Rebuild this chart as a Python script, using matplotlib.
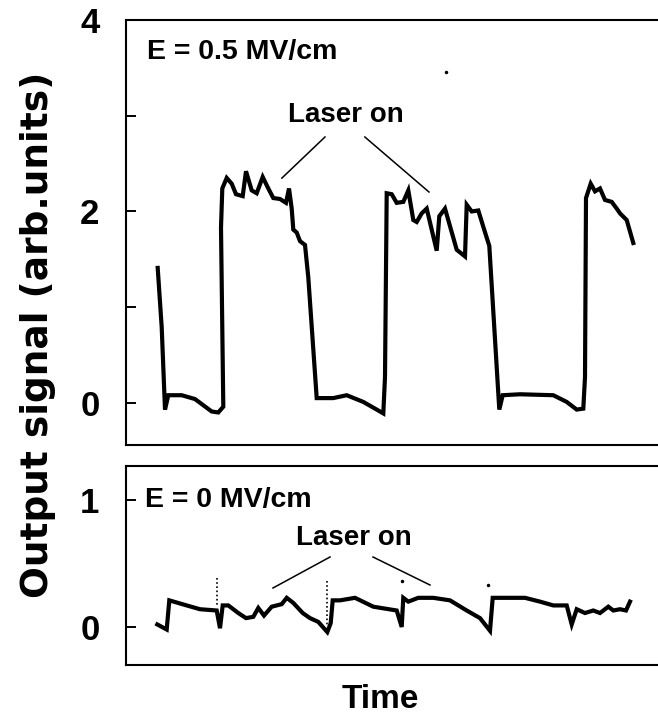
import matplotlib.pyplot as plt

# time in arbitrary units (no ticks on the time axis)
t_top = [31.7, 35.7, 39, 42.3, 55.7, 69, 85.7, 92.3, 97.3, 95, 96.3, 100.7, 105.7,
         110, 116.7, 120, 125.7, 130.7, 136.7, 142.3, 147.3, 154, 160, 163, 165.7,
         167.3, 170.7, 174, 179, 182.3, 190.7, 207.3, 220.7, 237.3, 250.7, 257.3,
         259, 260.7, 265.7, 270.7, 277.3, 282.3, 287.3, 290.7, 295.7, 300.7, 310.7,
         313.3, 319, 330.7, 339, 340.7, 345.7, 352.3, 357.3, 363.3, 373.3, 376.7,
         394, 427.3, 440.7, 450.7, 457.3, 459, 460, 464.7, 469, 474, 479, 485.7,
         490.7, 494, 500.7, 507.3]
sig_top = [1.41, 0.79, -0.07, 0.08, 0.08, 0.04, -0.09, -0.10, -0.04, 1.83, 2.24, 2.35,
           2.29, 2.18, 2.16, 2.42, 2.22, 2.19, 2.36, 2.24, 2.14, 2.13, 2.09, 2.24,
           2.03, 1.81, 1.78, 1.69, 1.65, 1.31, 0.05, 0.05, 0.08, 0.01, -0.07, -0.11,
           0.27, 2.19, 2.18, 2.09, 2.10, 2.22, 1.91, 1.89, 1.98, 2.03, 1.59, 1.95,
           2.03, 1.60, 1.53, 2.07, 2.00, 2.01, 1.84, 1.64, -0.07, 0.08, 0.09, 0.08,
           0.01, -0.07, -0.06, 0.27, 2.14, 2.29, 2.21, 2.24, 2.12, 2.10, 2.03, 1.98,
           1.91, 1.67]

t_bot = [31.3, 40.7, 43.3, 60.7, 74, 90.7, 94, 96.7, 102.3, 112.3, 120, 127.3, 132.3,
         138, 145.7, 155.7, 160.7, 167.3, 176.7, 184, 192.3, 201.3, 204.7, 206.7, 214,
         229, 247.3, 270.7, 275.7, 277.3, 282.3, 292.3, 307.3, 324, 340.7, 354, 364,
         366.7, 380.7, 399, 414, 427.3, 440.7, 445.7, 450.7, 459, 467.3, 474, 482.3,
         487.3, 494, 500, 504]
sig_bot = [0.02, -0.02, 0.21, 0.17, 0.14, 0.13, -0.01, 0.17, 0.17, 0.11, 0.07, 0.08,
           0.15, 0.09, 0.16, 0.18, 0.23, 0.19, 0.11, 0.07, 0.04, -0.04, 0.03, 0.21,
           0.21, 0.23, 0.16, 0.13, 0.00, 0.23, 0.20, 0.23, 0.23, 0.21, 0.13, 0.07,
           -0.03, 0.23, 0.23, 0.23, 0.20, 0.17, 0.17, 0.02, 0.14, 0.11, 0.13, 0.11,
           0.16, 0.13, 0.14, 0.13, 0.20]

# dotted markers seen in the lower trace
dot_lines = [(91, 0.386, 0.173), (201, 0.362, 0.016)]
dot_points = [(276, 0.362), (362, 0.33)]

FONT = 'Liberation Sans'
LW = 3.0

fig = plt.figure(figsize=(6.58, 7.17), dpi=100)
ax1 = fig.add_axes([126 / 658, 1 - 445 / 717, 532 / 658, 425 / 717])
ax2 = fig.add_axes([126 / 658, 1 - 665 / 717, 532 / 658, 199 / 717])

ax1.plot(t_top, sig_top, color='black', lw=LW, solid_joinstyle='miter')
ax1.plot([320], [3.46], marker='o', ms=1.5, color='black')
ax1.set_ylim(-0.44, 4.0)
ax1.set_yticks([0, 2, 4])
ax1.set_yticks([1, 3], minor=True)

ax2.plot(t_bot, sig_bot, color='black', lw=LW, solid_joinstyle='miter')
for x, y0, y1 in dot_lines:
    ax2.plot([x, x], [y0, y1], color='black', lw=1.2, ls=(0, (1, 1.5)))
for x, y in dot_points:
    ax2.plot([x], [y], marker='o', ms=1.5, color='black')
ax2.set_ylim(-0.30, 1.27)
ax2.set_yticks([0, 1])

for ax in (ax1, ax2):
    ax.set_xlim(0, 532)
    ax.set_xticks([])
    ax.spines['right'].set_visible(False)
    for s in ('left', 'top', 'bottom'):
        ax.spines[s].set_linewidth(1.5)
    ax.tick_params(axis='y', which='both', direction='in', length=7, width=1.4, pad=19)
    for lab in ax.get_yticklabels():
        lab.set_fontfamily(FONT)
        lab.set_fontweight('bold')
        lab.set_fontsize(25)

ax1.text(0.039, 0.925, 'E = 0.5 MV/cm', transform=ax1.transAxes, ha='left', va='center',
         fontsize=20.5, fontweight='bold', family=FONT)
ax1.text(0.4135, 0.776, 'Laser on', transform=ax1.transAxes, ha='center', va='center',
         fontsize=20, fontweight='bold', family=FONT)
ax1.plot([0.374, 0.293], [0.7247, 0.628], color='black', lw=1.1, transform=ax1.transAxes)
ax1.plot([0.449, 0.5695], [0.7247, 0.5953], color='black', lw=1.1, transform=ax1.transAxes)

ax2.text(0.0357, 0.829, 'E = 0 MV/cm', transform=ax2.transAxes, ha='left', va='center',
         fontsize=20.5, fontweight='bold', family=FONT)
ax2.text(0.4286, 0.638, 'Laser on', transform=ax2.transAxes, ha='center', va='center',
         fontsize=20, fontweight='bold', family=FONT)
ax2.plot([0.3835, 0.2763], [0.5427, 0.387], color='black', lw=1.1, transform=ax2.transAxes)
ax2.plot([0.4643, 0.5714], [0.5427, 0.402], color='black', lw=1.1, transform=ax2.transAxes)

fig.text(38 / 658, 1 - 335 / 717, 'Output signal (arb.units)', rotation=90,
         ha='center', va='center', fontsize=27, fontweight='bold', family='DejaVu Sans')
fig.text(380 / 658, 1 - 699 / 717, 'Time', ha='center', va='center',
         fontsize=24, fontweight='bold', family=FONT)

fig.savefig('out.png', dpi=100)
